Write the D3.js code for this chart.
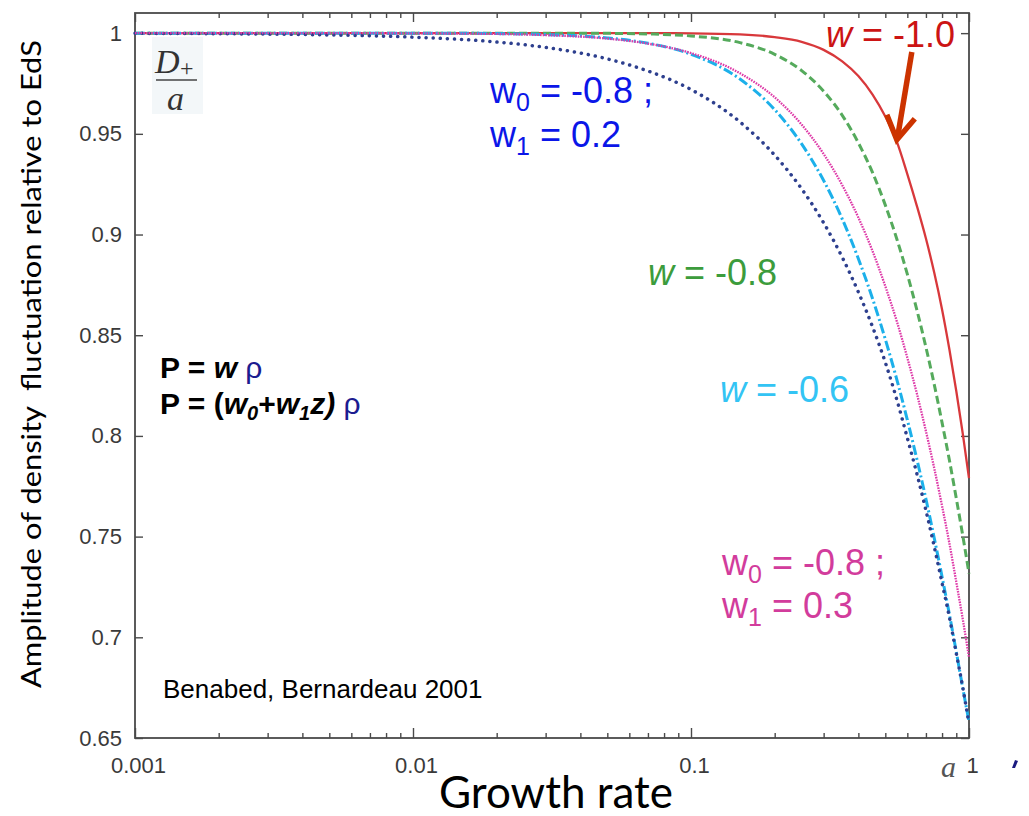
<!DOCTYPE html>
<html>
<head>
<meta charset="utf-8">
<script src="https://cdn.jsdelivr.net/npm/d3@7"></script>
<style>
  body { margin: 0; background: #fff; }
  svg { display: block; }
</style>
</head>
<body>
<svg id="chart" width="1029" height="816"></svg>
<script>
// Scale factor a (growth rate) shared by every curve
const growth = [0.001, 0.002, 0.005, 0.01, 0.02, 0.03, 0.05, 0.07, 0.1,
                0.15, 0.2, 0.25, 0.3, 0.35, 0.4, 0.45, 0.5, 0.55, 0.6,
                0.65, 0.7, 0.75, 0.8, 0.85, 0.9, 0.95, 1.0];

// D+/a relative to Einstein-de Sitter for each equation of state
const dW10   = [1.0, 1.0, 1.0, 1.0, 1.0, 1.0, 1.0, 1.0, 0.9999,
                0.9994, 0.998, 0.9957, 0.9917, 0.986, 0.9787, 0.9695, 0.9586, 0.9461, 0.930,
                0.914, 0.898, 0.881, 0.8628, 0.843, 0.8223, 0.801, 0.779];
const dW08   = [1.0, 1.0, 1.0, 1.0, 1.0, 1.0, 0.9999, 0.9996, 0.9986,
                0.9953, 0.9895, 0.9814, 0.9712, 0.9592, 0.9455, 0.9307, 0.9146, 0.8978, 0.8803,
                0.8623, 0.844, 0.8255, 0.8066, 0.788, 0.769, 0.7504, 0.7317];
const dW06   = [1.0, 1.0, 1.0, 1.0, 0.9998, 0.9993, 0.9976, 0.995, 0.9895,
                0.9772, 0.962, 0.945, 0.9268, 0.9077, 0.888, 0.8681, 0.848, 0.828, 0.808,
                0.7882, 0.7687, 0.7492, 0.7301, 0.7114, 0.6928, 0.6747, 0.658];
const dW0802 = [0.9999, 0.9997, 0.9991, 0.998, 0.9956, 0.9929, 0.9872, 0.9812, 0.972,
                0.9559, 0.9394, 0.9227, 0.9058, 0.8887, 0.8714, 0.8541, 0.8365, 0.818, 0.799,
                0.781, 0.763, 0.745, 0.727, 0.710, 0.692, 0.675, 0.657];
const dW0803 = [1.0, 1.0, 1.0, 0.9999, 0.9996, 0.999, 0.9973, 0.9948, 0.9901,
                0.9801, 0.9681, 0.9546, 0.940, 0.9245, 0.9084, 0.8917, 0.8743, 0.8569, 0.8388,
                0.8208, 0.8023, 0.7839, 0.7652, 0.7467, 0.7275, 0.7089, 0.690];

// Axis ticks
const xMajorTicks = [0.001, 0.01, 0.1, 1];
const xTickLabels = ["0.001", "0.01", "0.1", "1"];
const xDecades = [0.001, 0.01, 0.1];
const xMinorSteps = [2, 3, 4, 5, 6, 7, 8, 9];
const yTicks = [0.65, 0.7, 0.75, 0.8, 0.85, 0.9, 0.95, 1.0];
const yTickLabels = ["0.65", "0.7", "0.75", "0.8", "0.85", "0.9", "0.95", "1"];

const svg = d3.select("#chart");
const plotLeft = 135, plotRight = 969, plotTop = 13, plotBottom = 738;

const x = d3.scaleLog().domain([0.001, 1]).range([plotLeft, plotRight]);
const y = d3.scaleLinear().domain([0.65, 1.01]).range([plotBottom, plotTop]);

svg.append("rect").attr("width", 1029).attr("height", 816).attr("fill", "#fff");

// ---- axes (ticks point inward on all four sides) ----
const xMinorTicks = xDecades.flatMap(d => xMinorSteps.map(k => k * d));
const tickFont = "'Liberation Sans', Arial, sans-serif";

function styleAxis(g) {
  g.select(".domain").remove();
  g.selectAll(".tick line").attr("stroke", "#4a4a4a").attr("stroke-width", 1.4);
  g.selectAll(".tick text").attr("fill", "#3a3a3a");
  g.attr("font-family", tickFont).attr("font-size", 22);
}

svg.append("g").attr("transform", `translate(0,${plotBottom})`)
  .call(d3.axisBottom(x).tickValues(xMajorTicks).tickSizeInner(-10).tickSizeOuter(0)
        .tickPadding(19).tickFormat((d, i) => xTickLabels[i]))
  .call(styleAxis)
  .selectAll(".tick text").attr("dx", 3);
svg.append("g").attr("transform", `translate(0,${plotBottom})`)
  .call(d3.axisBottom(x).tickValues(xMinorTicks).tickSizeInner(-5).tickSizeOuter(0).tickFormat(""))
  .call(styleAxis);
svg.append("g").attr("transform", `translate(0,${plotTop})`)
  .call(d3.axisTop(x).tickValues(xMajorTicks).tickSizeInner(-9).tickSizeOuter(0).tickFormat(""))
  .call(styleAxis);
svg.append("g").attr("transform", `translate(0,${plotTop})`)
  .call(d3.axisTop(x).tickValues(xMinorTicks).tickSizeInner(-5).tickSizeOuter(0).tickFormat(""))
  .call(styleAxis);
svg.append("g").attr("transform", `translate(${plotLeft},0)`)
  .call(d3.axisLeft(y).tickValues(yTicks).tickSizeInner(-8).tickSizeOuter(0)
        .tickPadding(13).tickFormat((d, i) => yTickLabels[i]))
  .call(styleAxis);
svg.append("g").attr("transform", `translate(${plotRight},0)`)
  .call(d3.axisRight(y).tickValues(yTicks).tickSizeInner(-8).tickSizeOuter(0).tickFormat(""))
  .call(styleAxis);

// plot frame
svg.append("rect")
  .attr("x", plotLeft).attr("y", plotTop)
  .attr("width", plotRight - plotLeft).attr("height", plotBottom - plotTop)
  .attr("fill", "none").attr("stroke", "#4a4a4a").attr("stroke-width", 1.8);

// ---- D+/a label in the corner ----
const dLabel = svg.append("g").attr("font-family", "'Liberation Serif', 'Times New Roman', serif")
  .attr("font-style", "italic").attr("fill", "#333");
dLabel.append("rect").attr("x", 152).attr("y", 37).attr("width", 51).attr("height", 77)
  .attr("fill", "#f3f7f9");
dLabel.append("text").attr("x", 155).attr("y", 73).attr("font-size", 34).text("D");
dLabel.append("text").attr("x", 180).attr("y", 76).attr("font-size", 24).attr("font-style", "normal").text("+");
dLabel.append("line").attr("x1", 156).attr("x2", 197).attr("y1", 80).attr("y2", 80)
  .attr("stroke", "#444").attr("stroke-width", 1.6);
dLabel.append("text").attr("x", 167).attr("y", 110).attr("font-size", 34).text("a");

// ---- curves ----
const series = [
  { vals: dW10,   color: "#d8383b", width: 2.3, dash: null,       cap: "butt" },
  { vals: dW08,   color: "#55aa5c", width: 3.0, dash: "8,4",      cap: "butt" },
  { vals: dW06,   color: "#1cb0ea", width: 3.0, dash: "10,3,2,3", cap: "butt" },
  { vals: dW0802, color: "#2d3f8e", width: 3.5, dash: "0.1,7",    cap: "round" },
  { vals: dW0803, color: "#de3aa8", width: 2.3, dash: "1.6,1.1",  cap: "butt" }
];

const line = d3.line()
  .x(d => x(d[0]))
  .y(d => y(d[1]))
  .curve(d3.curveMonotoneX);

svg.append("g").attr("fill", "none")
  .selectAll("path")
  .data(series)
  .join("path")
  .attr("d", s => line(growth.map((a, i) => [a, s.vals[i]])))
  .attr("stroke", s => s.color)
  .attr("stroke-width", s => s.width)
  .attr("stroke-dasharray", s => s.dash)
  .attr("stroke-linecap", s => s.cap);

// ---- curve labels ----
const labelFont = "'Liberation Sans', Arial, sans-serif";

function wLabel(px, py, color, italic, sub, rest) {
  const t = svg.append("text").attr("x", px).attr("y", py)
    .attr("font-family", labelFont).attr("font-size", 36).attr("fill", color)
    .style("white-space", "pre");
  t.append("tspan").attr("font-style", italic ? "italic" : "normal").text("w");
  if (sub !== null) {
    t.append("tspan").attr("font-size", 25).attr("dy", 8).text(sub);
    t.append("tspan").attr("dy", -8).text(rest);
  } else {
    t.append("tspan").text(rest);
  }
}

wLabel(826, 47, "#cc1414", true, null, " = -1.0");
wLabel(490, 103, "#0b16e8", false, "0", " = -0.8 ;");
wLabel(490, 147, "#0b16e8", false, "1", " = 0.2");
wLabel(648, 285, "#3c9c3c", true, null, " = -0.8");
wLabel(720, 402, "#33c4f4", true, null, " = -0.6");
wLabel(722, 575, "#d23c9c", false, "0", " = -0.8 ;");
wLabel(722, 618, "#d23c9c", false, "1", " = 0.3");

// arrow pointing at the w = -1.0 curve
const tipIdx = growth.indexOf(0.55);
const tip = [x(growth[tipIdx]), y(dW10[tipIdx]) - 2];
const arrowColor = "#cc3300";
svg.append("line")
  .attr("x1", tip[0] + 15).attr("y1", 52).attr("x2", tip[0] + 1).attr("y2", tip[1] - 4)
  .attr("stroke", arrowColor).attr("stroke-width", 5.5);
svg.append("path")
  .attr("d", `M${tip[0] - 10},${tip[1] - 25} L${tip[0]},${tip[1]} L${tip[0] + 18},${tip[1] - 21}`)
  .attr("fill", "none").attr("stroke", arrowColor).attr("stroke-width", 5.5)
  .attr("stroke-linejoin", "miter");

// ---- equation of state ----
const eq = svg.append("g").attr("font-family", labelFont).attr("font-size", 30)
  .attr("font-weight", "bold").attr("fill", "#000").style("white-space", "pre");
const eq1 = eq.append("text").attr("x", 160).attr("y", 378);
eq1.append("tspan").text("P = ");
eq1.append("tspan").attr("font-style", "italic").text("w");
eq1.append("tspan").text(" ");
eq1.append("tspan").attr("font-weight", "normal").attr("fill", "#1c1c90").text("ρ");

const eq2 = eq.append("text").attr("x", 160).attr("y", 414);
eq2.append("tspan").text("P = (");
eq2.append("tspan").attr("font-style", "italic").text("w");
eq2.append("tspan").attr("font-style", "italic").attr("font-size", 20).attr("dy", 6).text("0");
eq2.append("tspan").attr("dy", -6).text("+");
eq2.append("tspan").attr("font-style", "italic").text("w");
eq2.append("tspan").attr("font-style", "italic").attr("font-size", 20).attr("dy", 6).text("1");
eq2.append("tspan").attr("font-style", "italic").attr("dy", -6).text("z)");
eq2.append("tspan").text(" ");
eq2.append("tspan").attr("font-weight", "normal").attr("fill", "#1c1c90").text("ρ");

// reference
svg.append("text").attr("x", 163).attr("y", 698)
  .attr("font-family", labelFont).attr("font-size", 26).attr("fill", "#000")
  .text("Benabed, Bernardeau 2001");

// variable name at the end of the x axis
svg.append("text").attr("x", 941).attr("y", 777)
  .attr("font-family", "'Liberation Serif', 'Times New Roman', serif")
  .attr("font-style", "italic").attr("font-size", 30).attr("fill", "#555")
  .text("a");

// small mark at the lower right
svg.append("path").attr("d", "M1012,768 L1015,760 L1018,761 L1015,768 Z").attr("fill", "#1a1a80");

// ---- axis titles ----
svg.append("text")
  .attr("transform", "translate(41,364) rotate(-90)")
  .attr("text-anchor", "middle")
  .attr("font-family", "Lato, 'Open Sans', sans-serif").attr("font-size", 27).attr("fill", "#000")
  .attr("textLength", 648).attr("lengthAdjust", "spacingAndGlyphs")
  .style("white-space", "pre")
  .text("Amplitude of density  fluctuation relative to EdS");

svg.append("text")
  .attr("x", 556).attr("y", 808).attr("text-anchor", "middle")
  .attr("font-family", "Lato, 'Open Sans', sans-serif").attr("font-size", 44).attr("fill", "#000")
  .text("Growth rate");
</script>
</body>
</html>
